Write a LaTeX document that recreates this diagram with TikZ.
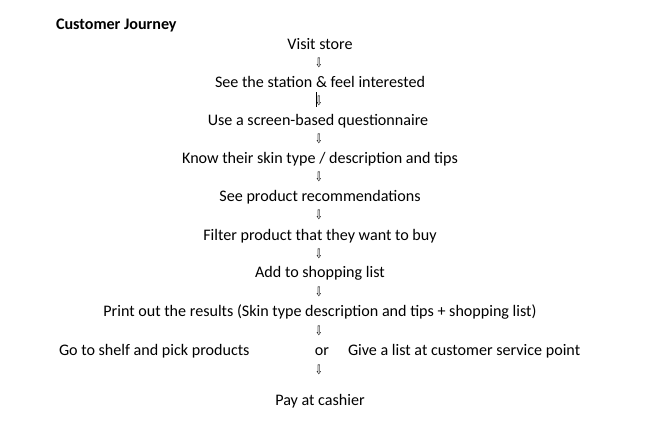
\documentclass[tikz,border=0pt]{standalone}
\usepackage{fontspec}
\setmainfont{Carlito}
\newfontfamily\arrowfont{DejaVu Sans}
\begin{document}
\begin{tikzpicture}[x=1pt,y=-1pt,
  every node/.style={inner sep=0pt,outer sep=0pt,font=\fontsize{16.1}{19}\selectfont},
  stepnode/.style={anchor=base},
  arrownode/.style={anchor=center,font=\fontsize{13}{14}\arrowfont}]
\useasboundingbox[fill=white] (0,0) rectangle (645,423);
\node[anchor=base west,font=\fontsize{16.1}{19}\selectfont\bfseries] (title) at (56,29) {Customer Journey};
\node[stepnode] (s1) at (320,49) {Visit store};
\node[arrownode] (a1) at (319,63) {\scalebox{0.7}[1]{⇩}};
\node[stepnode] (s2) at (320,87) {See the station \& feel interested};
\node[arrownode] (a2) at (319,101) {\scalebox{0.7}[1]{⇩}};
\node[stepnode] (s3) at (318,125) {Use a screen-based questionnaire};
\node[arrownode] (a3) at (319,139) {\scalebox{0.7}[1]{⇩}};
\node[stepnode] (s4) at (320,163) {Know their skin type / description and tips};
\node[arrownode] (a4) at (319,177) {\scalebox{0.7}[1]{⇩}};
\node[stepnode] (s5) at (320,201) {See product recommendations};
\node[arrownode] (a5) at (319,215) {\scalebox{0.7}[1]{⇩}};
\node[stepnode] (s6) at (320,240) {Filter product that they want to buy};
\node[arrownode] (a6) at (319,254) {\scalebox{0.7}[1]{⇩}};
\node[stepnode] (s7) at (320,277) {Add to shopping list};
\node[arrownode] (a7) at (319,292) {\scalebox{0.7}[1]{⇩}};
\node[stepnode] (s8) at (320,316) {Print out the results (Skin type description and tips + shopping list)};
\node[arrownode] (a8) at (319,331) {\scalebox{0.7}[1]{⇩}};
\node[anchor=base west] (s9a) at (59,355) {Go to shelf and pick products};
\node[stepnode] (or) at (322,355) {or};
\node[anchor=base west] (s9b) at (348,355) {Give a list at customer service point};
\node[arrownode] (a9) at (319,370) {\scalebox{0.7}[1]{⇩}};
\node[stepnode] (s10) at (320,405) {Pay at cashier};
\coordinate (c1) at (316,92);
\coordinate (c2) at (316,107);
\draw[line width=0.9pt] (c1) -- (c2);
\end{tikzpicture}
\end{document}
